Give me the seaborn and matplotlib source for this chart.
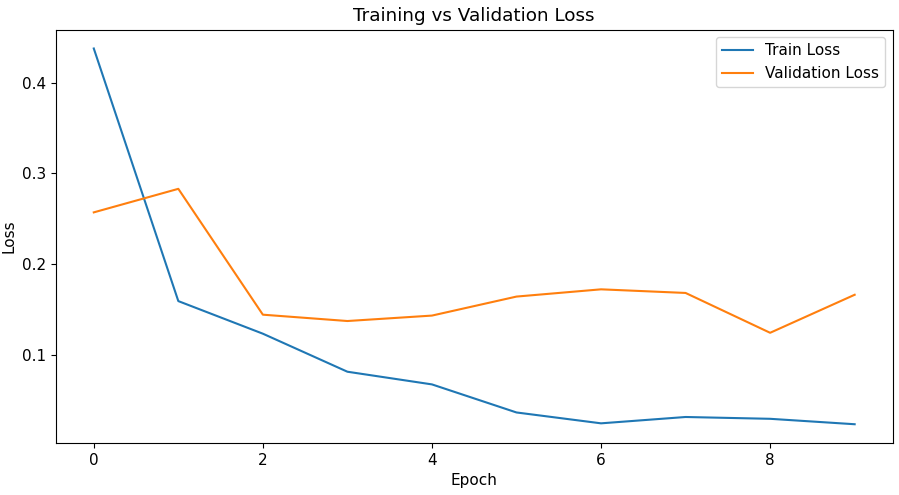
import matplotlib
matplotlib.use("Agg")
import matplotlib.pyplot as plt
import seaborn as sns
import pandas as pd

epochs = list(range(10))
train_loss = [0.438, 0.159, 0.123, 0.081, 0.067, 0.036, 0.024, 0.031, 0.029, 0.023]
val_loss = [0.257, 0.283, 0.144, 0.137, 0.143, 0.164, 0.172, 0.168, 0.124, 0.166]

df = pd.DataFrame({
    "Epoch": epochs * 2,
    "Loss": train_loss + val_loss,
    "Series": ["Train Loss"] * len(epochs) + ["Validation Loss"] * len(epochs),
})

plt.rcParams["font.size"] = 11

fig, ax = plt.subplots(figsize=(8.99, 4.95), dpi=100)
fig.subplots_adjust(left=0.062, right=0.993, top=0.94, bottom=0.105)
sns.lineplot(data=df, x="Epoch", y="Loss", hue="Series",
             palette=["#1f77b4", "#ff7f0e"], ax=ax)
ax.legend(title=None, loc="upper right")
ax.set_title("Training vs Validation Loss")
ax.set_xlabel("Epoch")
ax.set_ylabel("Loss")
fig.savefig("out.png", dpi=100)
